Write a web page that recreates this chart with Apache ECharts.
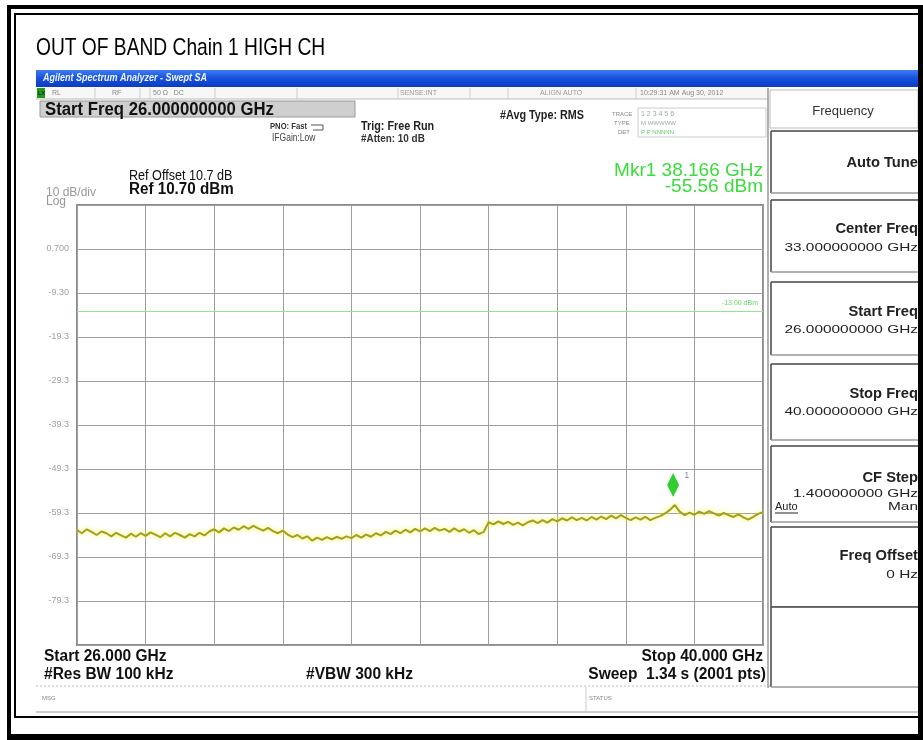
<!DOCTYPE html>
<html>
<head>
<meta charset="utf-8">
<script src="https://cdn.jsdelivr.net/npm/echarts@6/dist/echarts.min.js"></script>
<style>html,body{margin:0;padding:0;background:#fff;}#c{width:923px;height:740px;}</style>
</head>
<body>
<div id="c"></div>
<script>
// ---- data ----
const startFreqGHz = 26.0;
const stopFreqGHz = 40.0;
const sampleStepGHz = 0.1;
const traceDbm = [
  -63.2,-63.9,-63.0,-63.6,-64.3,-63.5,-63.9,-64.6,-63.8,-64.4,
  -64.9,-64.0,-64.7,-63.9,-64.5,-63.7,-64.2,-64.8,-63.9,-64.6,
  -63.8,-64.3,-64.9,-64.1,-64.6,-63.8,-64.4,-63.5,-63.0,-63.7,
  -62.8,-63.4,-62.6,-63.1,-62.3,-62.9,-62.2,-62.8,-63.3,-62.7,
  -63.4,-63.9,-63.3,-64.2,-64.8,-64.3,-65.1,-64.6,-65.6,-64.9,
  -65.4,-64.8,-65.3,-64.7,-65.2,-64.6,-65.0,-64.3,-64.9,-64.2,
  -64.7,-63.9,-64.4,-63.6,-64.1,-63.3,-63.9,-63.1,-63.7,-62.9,
  -63.5,-62.8,-63.4,-62.7,-63.3,-62.9,-63.6,-62.8,-63.5,-63.0,
  -63.8,-63.2,-64.1,-63.6,-61.4,-61.9,-61.2,-61.8,-61.3,-62.0,
  -61.5,-62.1,-61.4,-61.0,-61.6,-60.9,-61.5,-60.7,-61.2,-60.5,
  -61.0,-60.3,-60.9,-60.4,-61.0,-60.2,-60.8,-60.1,-60.7,-59.9,
  -60.5,-59.8,-60.4,-60.9,-60.3,-60.8,-60.2,-60.9,-60.4,-60.0,
  -59.4,-58.6,-57.5,-59.0,-59.8,-59.2,-59.7,-59.0,-59.5,-58.9,
  -59.4,-59.9,-59.3,-59.8,-60.2,-59.6,-60.3,-60.8,-60.2,-59.5,
  -59.1
];
const refLevelDbm = 10.7;
const bottomLevelDbm = -89.3;
const yTickLabels = ['', '-79.3', '-69.3', '-59.3', '-49.3', '-39.3', '-29.3', '-19.3', '-9.30', '0.700', ''];
const limitDbm = -13.5;
const limitLabel = '-13.00 dBm';
const markerFreq = 38.166;
const markerDbm = -57.5;

const traceData = traceDbm.map((v, i) => [+(startFreqGHz + i * sampleStepGHz).toFixed(3), v]);

const F = '"Liberation Sans", Arial, sans-serif';
const G = [];
function rect(x, y, w, h, fill, stroke, lw, z) {
  G.push({type: 'rect', z: z || 0, shape: {x, y, width: w, height: h}, style: {fill: fill || 'none', stroke: stroke || null, lineWidth: lw || 1}, silent: true});
}
function line(x1, y1, x2, y2, stroke, lw, dash) {
  G.push({type: 'line', shape: {x1, y1, x2, y2}, style: {stroke, lineWidth: lw || 1, lineDash: dash || null}, silent: true});
}
function text(x, y, t, size, opts) {
  opts = opts || {};
  G.push({type: 'text', x, y, scaleX: opts.sx || 1, style: {text: t, fill: opts.color || '#111', font: (opts.style || '') + ' ' + (opts.weight || 'normal') + ' ' + size + 'px ' + F, textAlign: opts.align || 'left', textVerticalAlign: 'middle'}, silent: true});
}

// title
text(36, 48, 'OUT OF BAND Chain 1 HIGH CH', 24, {color: '#000', sx: 0.8});

// analyzer title bar
G.push({type: 'rect', shape: {x: 36, y: 70, width: 882, height: 17}, style: {fill: new echarts.graphic.LinearGradient(0, 0, 0, 1, [{offset: 0, color: '#3f7cf2'}, {offset: 0.5, color: '#1550dc'}, {offset: 1, color: '#0c3cc0'}])}, silent: true});
text(43, 78, 'Agilent Spectrum Analyzer - Swept SA', 10, {color: '#eef3ff', weight: 'bold', style: 'italic', sx: 0.9});

// status row
rect(36, 87, 732, 12, '#f7f7f7');
line(36, 99, 768, 99, '#bbb', 1);
rect(37, 88, 8, 10, '#1f9a1f');
text(38, 93, 'LX', 6, {color: '#111'});
text(52, 93, 'RL', 7, {color: '#888'});
text(112, 93, 'RF', 7, {color: '#888'});
text(153, 93, '50 Ω   DC', 7, {color: '#888'});
text(400, 93, 'SENSE:INT', 7, {color: '#999'});
text(540, 93, 'ALIGN AUTO', 7, {color: '#999'});
text(640, 93, '10:29:31 AM Aug 30, 2012', 7, {color: '#888'});
[95, 140, 150, 215, 297, 398, 470, 508, 636].forEach(x => line(x, 88, x, 99, '#ccc', 1));

// start freq box
rect(40, 101, 315, 16, '#cfcfcf', '#9a9a9a', 1);
text(45, 110, 'Start Freq 26.000000000 GHz', 18, {weight: 'bold', sx: 0.93});

text(270, 127, 'PNO: Fast', 9, {weight: 'bold', color: '#333', sx: 0.85});
text(272, 138, 'IFGain:Low', 10, {color: '#444', sx: 0.85});
line(311, 125, 323, 125, '#555', 1);
line(323, 125, 323, 130, '#555', 1);
line(313, 130, 323, 130, '#555', 1);
text(361, 127, 'Trig: Free Run', 12, {weight: 'bold', color: '#222', sx: 0.9});
text(361, 139, '#Atten: 10 dB', 11, {weight: 'bold', color: '#333', sx: 0.9});
text(500, 116, '#Avg Type: RMS', 12, {weight: 'bold', color: '#222', sx: 0.9});
text(612, 114, 'TRACE', 6, {color: '#888'});
text(641, 114, '1 2 3 4 5 6', 7, {color: '#9aa'});
text(614, 123, 'TYPE', 6, {color: '#888'});
text(641, 123, 'M WWWWW', 6, {color: '#9aa'});
text(618, 132, 'DET', 6, {color: '#888'});
text(641, 132, 'P P NNNNN', 6, {color: '#6c6'});
rect(638, 108, 128, 29, null, '#ccc', 1);

text(763, 171, 'Mkr1 38.166 GHz', 19, {color: '#3cdc3c', align: 'right'});
text(763, 187, '-55.56 dBm', 19, {color: '#3cdc3c', align: 'right'});
text(129, 176, 'Ref Offset 10.7 dB', 14, {color: '#111', sx: 0.9});
text(129, 190, 'Ref 10.70 dBm', 16, {weight: 'bold', color: '#111', sx: 0.95});
text(46, 193, '10 dB/div', 12, {color: '#999'});
text(46, 202, 'Log', 12, {color: '#999'});

// bottom annotations
text(44, 657, 'Start 26.000 GHz', 16, {weight: 'bold', sx: 0.97});
text(44, 675, '#Res BW 100 kHz', 16, {weight: 'bold', sx: 0.97});
text(306, 675, '#VBW 300 kHz', 16, {weight: 'bold', sx: 0.97});
text(763, 657, 'Stop 40.000 GHz', 16, {weight: 'bold', align: 'right', sx: 0.97});
text(766, 675, 'Sweep  1.34 s (2001 pts)', 16, {weight: 'bold', align: 'right', sx: 0.97});

// message/status bar
line(36, 686, 918, 686, '#bbb', 1, [2, 2]);
text(42, 698, 'MSG', 6, {color: '#888'});
line(586, 687, 586, 711, '#ccc', 1);
text(589, 698, 'STATUS', 6, {color: '#888'});
line(36, 712, 918, 712, '#999', 1);

// right soft-key panel
line(768, 88, 768, 688, '#999', 1.5);
rect(770, 90, 148, 38, '#fff', '#bbb', 1);
text(843, 111, 'Frequency', 13, {color: '#333', align: 'center'});
const keys = [
  {y: 131, h: 62, lines: [['Auto Tune', 15, 163, 'bold']]},
  {y: 200, h: 72, lines: [['Center Freq', 15, 229, 'bold'], ['33.000000000 GHz', 11, 248, 'normal']]},
  {y: 282, h: 73, lines: [['Start Freq', 15, 312, 'bold'], ['26.000000000 GHz', 11, 330, 'normal']]},
  {y: 364, h: 76, lines: [['Stop Freq', 15, 394, 'bold'], ['40.000000000 GHz', 11, 412, 'normal']]},
  {y: 446, h: 76, lines: [['CF Step', 15, 478, 'bold'], ['1.400000000 GHz', 11, 494, 'normal'], ['Man', 11, 507, 'normal']]},
  {y: 527, h: 80, lines: [['Freq Offset', 15, 556, 'bold'], ['0 Hz', 11, 575, 'normal']]},
  {y: 607, h: 80, lines: []}
];
keys.forEach(k => {
  rect(771, k.y, 147, k.h, '#fff');
  line(771, k.y, 918, k.y, '#444', 1.5);
  line(771, k.y, 771, k.y + k.h, '#444', 1.5);
  line(771, k.y + k.h, 918, k.y + k.h, '#999', 1.5);
  k.lines.forEach(l => text(918, l[2], l[0], l[1], {weight: l[3], color: '#222', align: 'right', sx: l[3] === 'bold' ? 0.98 : 1.4}));
});
text(775, 507, 'Auto', 11, {color: '#222'});
line(775, 513, 798, 513, '#222', 1);

// outer frame (on top)
rect(7, 5, 916, 4, '#000', null, 1, 10);
rect(7, 5, 4, 735, '#000', null, 1, 10);
rect(918, 5, 5, 735, '#000', null, 1, 10);
rect(7, 734, 916, 6, '#000', null, 1, 10);
rect(14, 13, 904, 2, '#000', null, 1, 10);
rect(14, 13, 2, 704, '#000', null, 1, 10);
rect(14, 716, 904, 2, '#000', null, 1, 10);

const chart = echarts.init(document.getElementById('c'), null, {renderer: 'canvas'});
chart.setOption({
  animation: false,
  backgroundColor: '#fff',
  grid: {left: 77, top: 205, width: 686, height: 440, show: true, backgroundColor: '#fff', borderColor: '#8c8c8c', borderWidth: 2},
  xAxis: [
    {type: 'value', min: startFreqGHz, max: stopFreqGHz, show: false},
    {type: 'value', position: 'bottom', min: 0, max: 10, interval: 1, axisLine: {show: false}, axisTick: {show: false}, axisLabel: {show: false},
     splitLine: {show: true, lineStyle: {color: '#9e9e9e', width: 1}}}
  ],
  yAxis: [
    {type: 'value', min: bottomLevelDbm, max: refLevelDbm, show: false},
    {type: 'value', position: 'left', min: 0, max: 10, interval: 1, axisLine: {show: false}, axisTick: {show: false},
     axisLabel: {show: true, margin: 8, color: '#a0a0a0', fontSize: 9, fontFamily: F, formatter: v => yTickLabels[Math.round(v)]},
     splitLine: {show: true, lineStyle: {color: '#9e9e9e', width: 1}}}
  ],
  series: [{
    type: 'line',
    xAxisIndex: 0, yAxisIndex: 0,
    data: traceData,
    showSymbol: false,
    silent: true,
    lineStyle: {color: '#a3a01a', width: 2, shadowColor: '#f2f048', shadowBlur: 5},
    markLine: {
      silent: true, symbol: 'none',
      lineStyle: {color: '#8fe68f', width: 1.2, type: 'solid'},
      label: {show: true, position: 'insideEndTop', formatter: limitLabel, color: '#66d866', fontSize: 7, fontFamily: F},
      data: [{yAxis: limitDbm}]
    },
    markPoint: {
      silent: true,
      data: [{coord: [markerFreq, markerDbm], symbol: 'diamond', symbolSize: [12, 24], symbolOffset: [0, -20],
        itemStyle: {color: '#2fcf2f'},
        label: {show: true, formatter: '1', position: 'right', offset: [0, -10], color: '#88a', fontSize: 9, fontFamily: F}}]
    }
  }],
  graphic: {elements: G}
});
</script>
</body>
</html>
